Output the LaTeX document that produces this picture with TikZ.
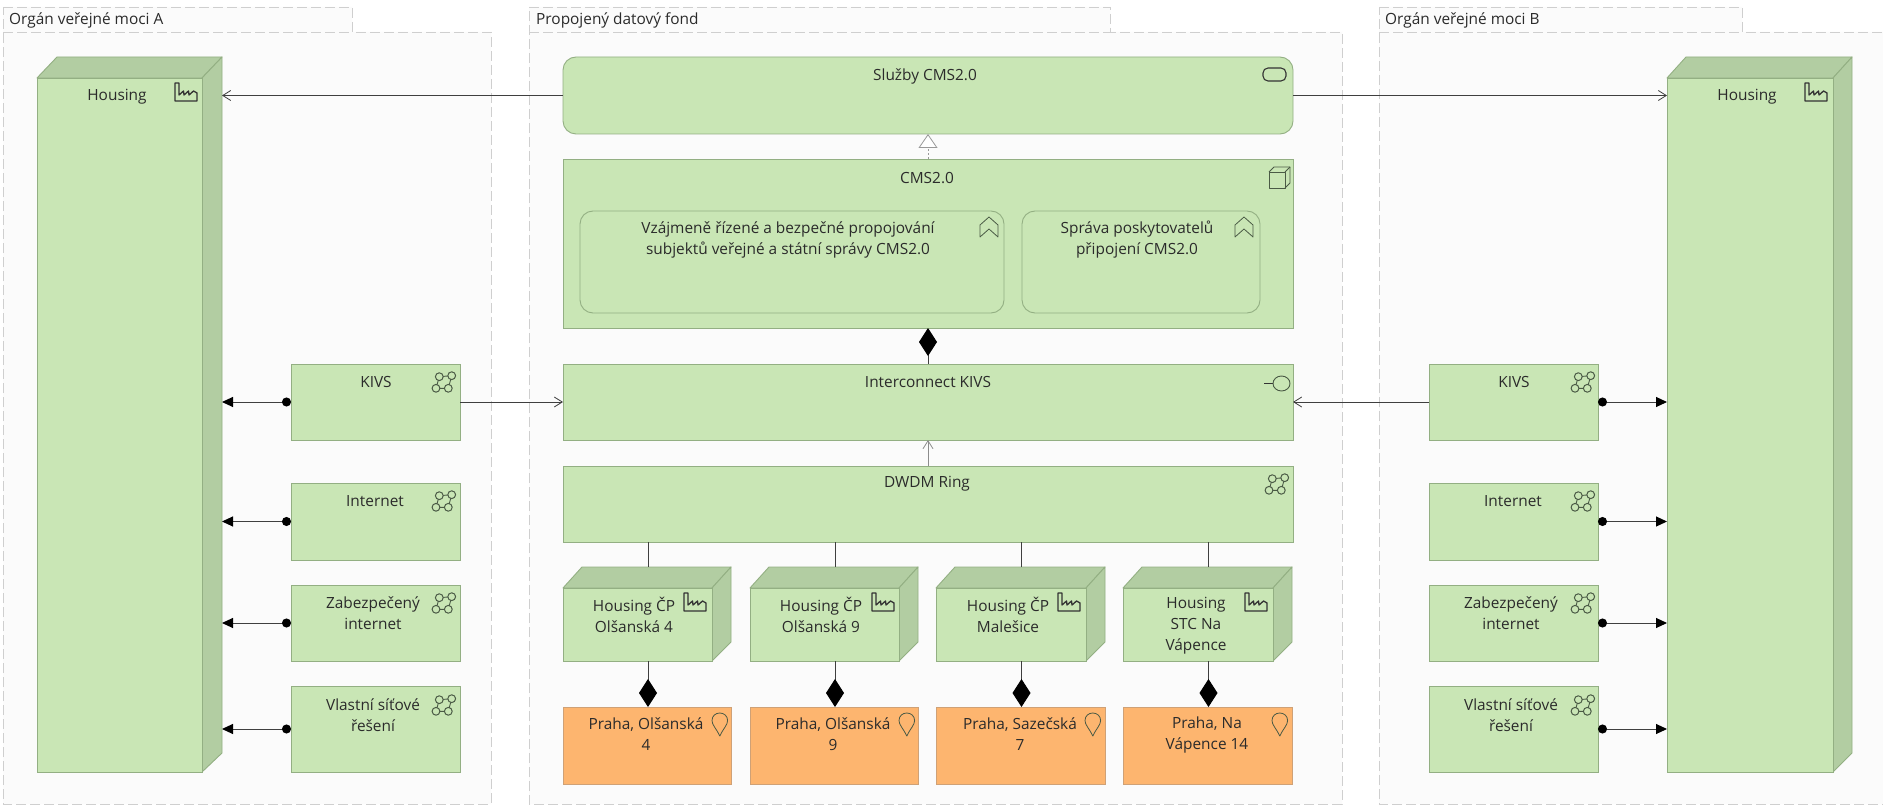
\documentclass[tikz,border=0pt]{standalone}
\usepackage{fontspec}
\setmainfont{Open Sans}
\usetikzlibrary{fit,arrows.meta}
\definecolor{grn}{HTML}{C9E6B5}
\definecolor{grndk}{HTML}{B2CDA2}
\definecolor{grnln}{HTML}{93AF83}
\definecolor{org}{HTML}{FDB56F}
\definecolor{orgln}{HTML}{CFA176}
\definecolor{grpfill}{HTML}{FBFBFB}
\definecolor{grpln}{HTML}{CFCFCF}
\definecolor{ink}{HTML}{2B2B2B}
\definecolor{icon}{HTML}{4A5A45}
\definecolor{wire}{HTML}{3F3F3F}
\tikzset{
  grpshape/.style={fill=grpfill,draw=grpln,line width=0.9pt,dash pattern=on 10pt off 4pt},
  greenbox/.style={fill=grn,draw=grnln,line width=0.9pt,inner sep=0pt,outer sep=0pt},
  orangebox/.style={fill=org,draw=orgln,line width=0.9pt,inner sep=0pt,outer sep=0pt},
  roundbox/.style={greenbox,rounded corners=13pt},
  ghost/.style={inner sep=0pt,outer sep=0pt},
  lbl/.style={font=\fontsize{15.4}{21}\selectfont,text=ink,inner sep=0pt,align=center},
  glbl/.style={lbl,anchor=west},
  iconln/.style={draw=icon,line width=0.9pt,line join=round},
  wireln/.style={draw=wire,line width=1pt},
  assoc/.style={wireln,-{Straight Barb[length=8pt,width=10pt,line width=0.8pt]}},
  serving/.style={wireln,{Circle[length=9pt,width=9pt,color=black]}-{Triangle[length=11pt,width=10pt,color=black]}},
  compose/.style={wireln,-{Diamond[length=28pt,width=18pt,color=black]}},
  realize/.style={draw=gray!80,line width=0.8pt,dash pattern=on 2pt off 2pt,-{Triangle[open,length=14pt,width=19pt,fill=white]}},
}
\newcommand{\flatbox}[6]{\node[#6,fit={(#2,#3)(#4,#5)}] (#1) {};}
\newcommand{\cubebox}[8]{%
  \fill[grndk,draw=grnln,line width=0.9pt,line join=round] (#2,#4)--({#2+#6-#5},#3)--(#6,#3)--(#5,#4)--cycle;
  \fill[grndk,draw=grnln,line width=0.9pt,line join=round] (#5,#4)--(#6,#3)--(#6,#8)--(#5,#7)--cycle;
  \fill[grn,draw=grnln,line width=0.9pt] (#2,#4) rectangle (#5,#7);
  \node[ghost,fit={(#2,#3)(#6,#7)}] (#1) {};}
\newcommand{\icfactory}[2]{\begin{scope}[shift={(#1,#2)}]
  \draw[iconln,draw=black!80,line width=1.3pt] (0,0)--(4,0)--(4,12)--(8.5,8)--(9,12)--(13.5,8)--(14,12)--(18.5,8)--(22,10)--(22,18)--(0,18)--cycle;
\end{scope}}
\newcommand{\icnet}[2]{\begin{scope}[shift={(#1,#2)}]
  \draw[iconln] (7.3,4.7)--(19.7,3.7)--(16.3,16.3)--(4,16.3)--cycle;
  \foreach \cx/\cy in {7.3/4.7,19.7/3.7,4/16.3,16.3/16.3}{\draw[iconln,line width=1pt,fill=grn] (\cx,\cy) circle (3.9);}
\end{scope}}
\newcommand{\icservice}[2]{\begin{scope}[shift={(#1,#2)}]
  \draw[iconln,draw=black!80,line width=1.1pt,rounded corners=5pt] (0,0) rectangle (23,13);
\end{scope}}
\newcommand{\iccube}[2]{\begin{scope}[shift={(#1,#2)}]
  \draw[iconln] (0,5) rectangle (16,21);
  \draw[iconln] (0,5)--(5,0)--(21,0)--(21,16)--(16,21);
  \draw[iconln] (16,5)--(21,0);
\end{scope}}
\newcommand{\icface}[2]{\begin{scope}[shift={(#1,#2)}]
  \draw[iconln,draw=black!80] (0,7.5)--(9,7.5);
  \draw[iconln] (17.5,7.5) ellipse (8.5 and 7.5);
\end{scope}}
\newcommand{\icchev}[2]{\begin{scope}[shift={(#1,#2)}]
  \draw[iconln,line width=0.8pt,line join=round] (0,8)--(9,0)--(18,8)--(18,20)--(9,12)--(0,20)--cycle;
\end{scope}}
\newcommand{\icpin}[2]{\begin{scope}[shift={(#1,#2)}]
  \draw[iconln,line width=0.8pt] (7.8,23) .. controls (4,15) and (0,12) .. (0,7.5) .. controls (0,3) and (3.5,0) .. (7.8,0) .. controls (12,0) and (15.6,3) .. (15.6,7.5) .. controls (15.6,12) and (11.6,15) .. (7.8,23) -- cycle;
\end{scope}}
\begin{document}
\begin{tikzpicture}[x=1pt,y=-1pt]
\useasboundingbox (0,0) rectangle (1883,805);
\fill[white] (0,0) rectangle (1883,805);
% groups
\draw[grpshape] (3,7)--(352,7)--(352,32)--(491,32)--(491,804)--(3,804)--cycle;
\draw[grpshape] (3,32)--(352,32);
\draw[grpshape] (529,7)--(1110,7)--(1110,32)--(1342,32)--(1342,804)--(529,804)--cycle;
\draw[grpshape] (529,32)--(1110,32);
\draw[grpshape] (1379,7)--(1742,7)--(1742,32)--(1895,32)--(1895,804)--(1379,804)--cycle;
\draw[grpshape] (1379,32)--(1742,32);
\node[glbl] (gA) at (9,20) {Orgán veřejné moci A};
\node[glbl] (gP) at (536,20) {Propojený datový fond};
\node[glbl] (gB) at (1385,20) {Orgán veřejné moci B};
% big housings
\cubebox{hA}{37}{57}{78}{202}{222}{772}{753}
\cubebox{hB}{1667}{57}{78}{1833}{1852}{772}{753}
\node[lbl] (thA) at (117,97) {Housing};
\node[lbl] (thB) at (1747,97) {Housing};
\icfactory{175}{83}
\icfactory{1805}{83}
% centre column
\flatbox{svc}{563}{57}{1293}{134}{roundbox}
\node[lbl] (tsvc) at (925,76) {Služby CMS2.0};
\icservice{1263}{68}
\flatbox{cms}{563}{159}{1293}{328}{greenbox}
\node[lbl] (tcms) at (927,178) {CMS2.0};
\iccube{1269}{167}
\flatbox{capa}{580}{211}{1004}{313}{roundbox}
\node[lbl] (tcapa) at (788,239.5) {Vzájmeně řízené a bezpečné propojování\\subjektů veřejné a státní správy CMS2.0};
\icchev{980}{217}
\flatbox{capb}{1022}{211}{1260}{313}{roundbox}
\node[lbl] (tcapb) at (1137,239.5) {Správa poskytovatelů\\připojení CMS2.0};
\icchev{1235}{217}
\flatbox{ick}{563}{364}{1293}{440}{greenbox}
\node[lbl] (tick) at (928,382) {Interconnect KIVS};
\icface{1264}{376}
\flatbox{dwdm}{563}{466}{1293}{542}{greenbox}
\node[lbl] (tdwdm) at (927,484) {DWDM Ring};
\icnet{1265}{474}
% small housings
\cubebox{nA}{563}{567}{588}{712}{731}{661}{642}
\cubebox{nB}{750}{567}{588}{899}{918}{661}{642}
\cubebox{nC}{936}{567}{588}{1086}{1105}{661}{642}
\cubebox{nD}{1123}{567}{588}{1273}{1292}{661}{642}
\node[lbl] (tnA) at (634,615) {Housing ČP\\Olšanská 4};
\node[lbl] (tnB) at (821,615) {Housing ČP\\Olšanská 9};
\node[lbl] (tnC) at (1008,615) {Housing ČP\\Malešice};
\node[lbl] (tnD) at (1196,625.5) {Housing\\STC Na\\Vápence};
\icfactory{684}{593}
\icfactory{872}{593}
\icfactory{1058}{593}
\icfactory{1245}{593}
% locations
\flatbox{oA}{563}{707}{731}{784}{orangebox}
\flatbox{oB}{750}{707}{918}{784}{orangebox}
\flatbox{oC}{936}{707}{1105}{784}{orangebox}
\flatbox{oD}{1123}{707}{1292}{784}{orangebox}
\node[lbl] (toA) at (646,734.5) {Praha, Olšanská\\4};
\node[lbl] (toB) at (833,734.5) {Praha, Olšanská\\9};
\node[lbl] (toC) at (1020,734.5) {Praha, Sazečská\\7};
\node[lbl] (toD) at (1207,734.5) {Praha, Na\\Vápence 14};
\icpin{712}{713}
\icpin{899}{713}
\icpin{1085}{713}
\icpin{1272}{713}
% left networks
\flatbox{kA}{291}{364}{460}{440}{greenbox}
\flatbox{iA}{291}{483}{460}{560}{greenbox}
\flatbox{zA}{291}{585}{460}{661}{greenbox}
\flatbox{vA}{291}{686}{460}{772}{greenbox}
\node[lbl] (tkA) at (376,382) {KIVS};
\node[lbl] (tiA) at (375,501) {Internet};
\node[lbl] (tzA) at (373,613) {Zabezpečený\\internet};
\node[lbl] (tvA) at (373,715) {Vlastní síťové\\řešení};
\icnet{432}{372}
\icnet{432}{491}
\icnet{432}{593}
\icnet{432}{695}
% right networks
\flatbox{kB}{1429}{364}{1598}{440}{greenbox}
\flatbox{iB}{1429}{483}{1598}{560}{greenbox}
\flatbox{zB}{1429}{585}{1598}{661}{greenbox}
\flatbox{vB}{1429}{686}{1598}{772}{greenbox}
\node[lbl] (tkB) at (1514,382) {KIVS};
\node[lbl] (tiB) at (1513,501) {Internet};
\node[lbl] (tzB) at (1511,613) {Zabezpečený\\internet};
\node[lbl] (tvB) at (1511,715) {Vlastní síťové\\řešení};
\icnet{1571}{372}
\icnet{1571}{491}
\icnet{1571}{593}
\icnet{1571}{695}
% connectors
\draw[assoc] (svc.west) -- (svc.west -| hA.east);
\draw[assoc] (svc.east) -- (svc.east -| hB.west);
\draw[assoc] (kA.east) -- (ick.west);
\draw[assoc] (kB.west) -- (ick.east);
\draw[assoc,draw=gray!90] (dwdm.north) -- (ick.south);
\draw[realize] (cms.north) -- (svc.south);
\draw[compose] (ick.north) -- (cms.south);
\foreach \nn in {A,B,C,D}{
  \draw[wireln] ([xshift=1pt]n\nn.north) -- ([xshift=1pt]n\nn.north |- dwdm.south);
  \draw[compose] ([xshift=1pt]n\nn.south) -- ([xshift=1pt]n\nn.south |- o\nn.north);
}
\foreach \bx in {k,i,z,v}{
  \draw[serving] (\bx A.west) -- (\bx A.west -| hA.east);
  \draw[serving] (\bx B.east) -- (\bx B.east -| hB.west);
}
\end{tikzpicture}
\end{document}
